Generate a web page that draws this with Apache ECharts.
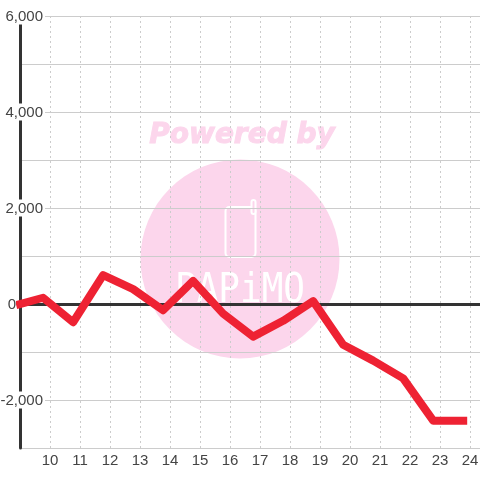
<!DOCTYPE html>
<html>
<head>
<meta charset="utf-8">
<style>
  html, body { margin: 0; padding: 0; background: #fff; }
  #chart { width: 480px; height: 480px; }
</style>
<script src="https://cdn.jsdelivr.net/npm/echarts@6/dist/echarts.min.js"></script>
</head>
<body>
<div id="chart"></div>
<script>
// x position of each point
const hours = [9, 9.77, 10.77, 11.77, 12.77, 13.77, 14.77, 15.77, 16.77, 17.77, 18.77, 19.77, 20.77, 21.77, 22.77, 23.77];
const values = [0, 130, -380, 600, 310, -130, 480, -200, -680, -350, 60, -850, -1180, -1550, -2430, -2430];
const yTicks = [-2000, 0, 4000, 6000, 2000];

const FONT = '"Liberation Sans", Arial, sans-serif';
const PINK = '#fcd6ec';

let chart = echarts.init(document.getElementById('chart'), null, { renderer: 'canvas' });

chart.setOption({
  animation: false,
  backgroundColor: '#fff',
  grid: { left: 20, right: 0, top: 16, bottom: 32, containLabel: false, outerBoundsMode: 'none' },
  // watermark behind the grid
  graphic: [
    { type: 'circle', z: -10, silent: true, shape: { cx: 240, cy: 259, r: 99.5 }, style: { fill: PINK } },
    { type: 'text', z: -10, silent: true, style: { x: 242, y: 136, text: 'Powered by', align: 'center', verticalAlign: 'middle', fill: PINK, stroke: PINK, lineWidth: 1, font: 'italic bold 28px "DejaVu Sans", sans-serif' } },
    { type: 'rect', z: -9, silent: true, shape: { x: 225.5, y: 207, width: 30, height: 50, r: 4 }, style: { fill: 'none', stroke: '#fff', lineWidth: 2 } },
    { type: 'rect', z: -9, silent: true, shape: { x: 251.5, y: 200, width: 4, height: 14, r: 2 }, style: { fill: PINK, stroke: '#fff', lineWidth: 2 } },
    { type: 'text', z: -9, silent: true, originX: 240, originY: 291, scaleY: 1.15, style: { x: 240, y: 291, text: 'PAPiMO', align: 'center', verticalAlign: 'middle', fill: '#fff', font: '36px "DejaVu Sans Mono", monospace' } }
  ],
  xAxis: [
    {
      type: 'value', min: 9, max: 24.33, interval: 1,
      axisLine: { show: false, onZero: false },
      axisTick: { show: false },
      axisLabel: { color: '#444', fontFamily: FONT, fontSize: 15, margin: 5, showMinLabel: false, showMaxLabel: false, formatter: v => (v % 1 === 0 && v > 9 ? String(v) : '') },
      splitLine: { show: true, lineStyle: { color: '#ccc', type: [2, 3], width: 1 } }
    },
    {
      // dark line at zero
      type: 'value', min: 9, max: 24.33, interval: 1, position: 'bottom',
      axisLine: { show: true, onZero: true, lineStyle: { color: '#333', width: 3 } },
      axisTick: { show: false }, axisLabel: { show: false }, splitLine: { show: false }
    }
  ],
  yAxis: {
    type: 'value', min: -3000, max: 6000, interval: 1000,
    axisLine: { show: true, onZero: false, lineStyle: { color: '#333', width: 3 } },
    axisTick: { show: false },
    axisLabel: {
      margin: -25, showMinLabel: false, color: '#444', fontFamily: FONT, fontSize: 15,
      formatter: v => {
        if (v === 0) return '{z|0}';
        if (!yTicks.includes(v)) return '';
        return '{w|' + v.toLocaleString('en-US') + '}';
      },
      rich: {
        w: { color: '#444', fontFamily: FONT, fontSize: 15, backgroundColor: '#fff', padding: [2, 2, 0, 0] },
        z: { color: '#444', fontFamily: FONT, fontSize: 15, padding: [2, 29, 0, 0] }
      }
    },
    splitLine: { show: true, lineStyle: { color: '#ccc', width: 1 } }
  },
  series: [{
    type: 'line', xAxisIndex: 0,
    data: hours.map((h, i) => [h, values[i]]),
    showSymbol: false, clip: false, z: 5,
    lineStyle: { color: '#ee2233', width: 8, cap: 'square', join: 'round' }
  }]
});
</script>
</body>
</html>
